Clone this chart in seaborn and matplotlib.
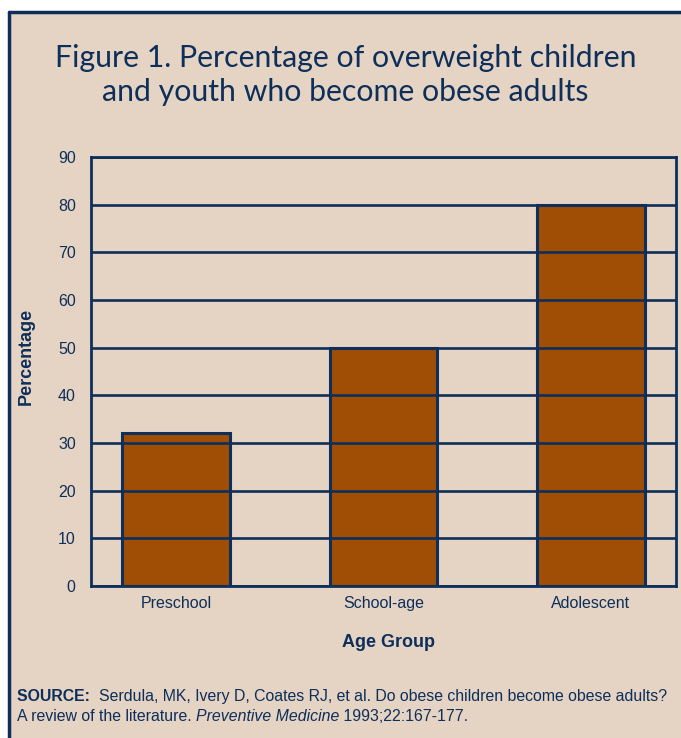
#%% import tools and libraries
import pandas as pd
import seaborn as sb
import matplotlib.pyplot as plt
from matplotlib.patches import Rectangle
from matplotlib.lines import Line2D

#%% data
age_groups = ['Preschool', 'School-age', 'Adolescent']
percentages = [32, 50, 80]
y_ticks = [0, 10, 20, 30, 40, 50, 60, 70, 80, 90]

df = pd.DataFrame({'Age Group': age_groups, 'Percentage': percentages})

#%% colours
beige = '#E5D3C3'
navy = '#0D2F5A'
brown = '#A04D06'

sb.set_style('white')
plt.rcParams['font.family'] = ['Liberation Sans', 'DejaVu Sans']

#%% figure with the beige panel and navy frame (top + left)
fig = plt.figure(figsize=(6.81, 7.38), dpi=100, facecolor='white')
fig.patches.append(Rectangle((9 / 681, 0), 1, 1 - 12 / 738, transform=fig.transFigure,
                             facecolor=beige, edgecolor='none', zorder=-10))
fig.add_artist(Line2D([9 / 681, 1], [1 - 12 / 738, 1 - 12 / 738], transform=fig.transFigure,
                      color=navy, lw=2.5, zorder=-5))
fig.add_artist(Line2D([9 / 681, 9 / 681], [0, 1 - 12 / 738], transform=fig.transFigure,
                      color=navy, lw=2.5, zorder=-5))

#%% plot
ax = fig.add_axes([91 / 681, 1 - 586 / 738, (676 - 91) / 681, (586 - 157) / 738])
ax.set_facecolor(beige)
sb.barplot(data=df, x='Age Group', y='Percentage', color=brown, saturation=1,
           width=0.52, edgecolor=navy, linewidth=2.2, ax=ax)
ax.set_xlim(-0.41, 2.41)
ax.set_ylim(0, 90)
ax.set_yticks(y_ticks)
ax.set_axisbelow(False)
ax.grid(axis='y', color=navy, linewidth=1.9)
ax.grid(axis='x', visible=False)
for sp in ax.spines.values():
    sp.set_visible(True)
    sp.set_color(navy)
    sp.set_linewidth(2)
ax.tick_params(axis='y', length=0, pad=11, labelsize=11.5, labelcolor=navy)
ax.tick_params(axis='x', length=0, pad=7, labelsize=11.5, labelcolor=navy)
ax.set_xlabel('Age Group', fontsize=13, fontweight='bold', color=navy)
ax.set_ylabel('Percentage', fontsize=13, fontweight='bold', color=navy)
ax.xaxis.set_label_coords(0.508, -0.112)
ax.yaxis.set_label_coords(-0.097, 0.536)

#%% title (no condensed font installed, so size it to the reference width)
title = fig.text(0.507, 1 - 75 / 738,
                 'Figure 1. Percentage of overweight children\nand youth who become obese adults',
                 ha='center', va='center', fontsize=20, color=navy, family='Lato',
                 linespacing=1.22)
fig.canvas.draw()
w = title.get_window_extent().width
title.set_fontsize(20 * 584 / w)

#%% source note
fs = 11.4
t1 = fig.text(17 / 681, 1 - 701 / 738, 'SOURCE:  ', fontsize=fs, fontweight='bold', color=navy)
ax.annotate('Serdula, MK, Ivery D, Coates RJ, et al. Do obese children become obese adults?',
            xy=(1, 0), xycoords=t1, va='bottom', ha='left', fontsize=fs, color=navy,
            annotation_clip=False)
t2 = fig.text(17 / 681, 1 - 721 / 738, 'A review of the literature. ', fontsize=fs, color=navy)
t3 = ax.annotate('Preventive Medicine', xy=(1, 0), xycoords=t2, va='bottom', ha='left',
                 fontsize=fs, fontstyle='italic', color=navy, annotation_clip=False)
ax.annotate(' 1993;22:167-177.', xy=(1, 0), xycoords=t3, va='bottom', ha='left',
            fontsize=fs, color=navy, annotation_clip=False)

plt.savefig('out.png', dpi=100, facecolor='white')
